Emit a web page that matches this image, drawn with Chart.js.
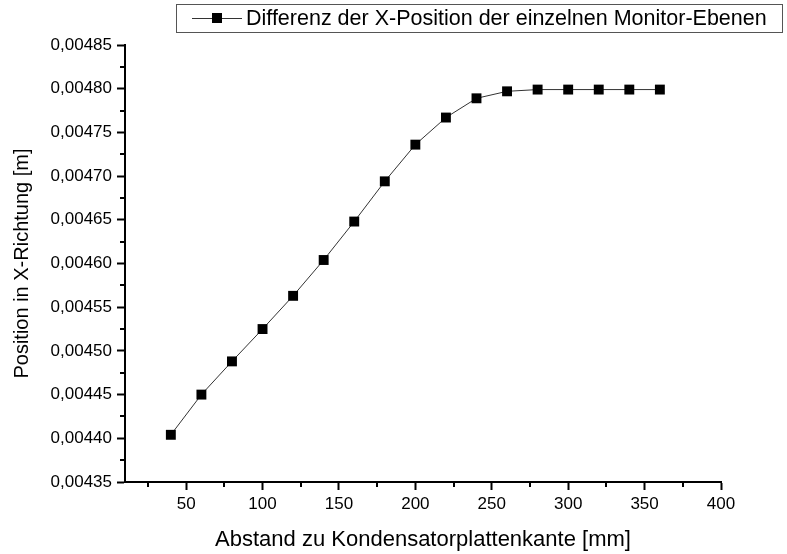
<!DOCTYPE html>
<html lang="de">
<head>
  <meta charset="UTF-8" />
  <title>Differenz der X-Position</title>
  <script src="https://cdn.jsdelivr.net/npm/chart.js@4.4.1/dist/chart.umd.min.js"></script>
  <style>
    html, body { margin: 0; padding: 0; background: #fff; }
    #wrap { width: 787px; height: 554px; }
  </style>
</head>
<body>
  <div id="wrap"><canvas id="chart" width="787" height="554"></canvas></div>

  <script>
    // data
    const abstand = [40, 60, 80, 100, 120, 140, 160, 180, 200, 220, 240, 260, 280, 300, 320, 340, 360];
    const position = [0.004404, 0.004450, 0.004488, 0.004525, 0.004563, 0.004604, 0.004648, 0.004694,
                      0.004736, 0.004767, 0.004789, 0.004797, 0.004799, 0.004799, 0.004799, 0.004799, 0.004799];
    const xTicks = [50, 100, 150, 200, 250, 300, 350, 400];
    const xMinorTicks = [25, 75, 125, 175, 225, 275, 325, 375];
    const yTicks = [0.00435, 0.00440, 0.00445, 0.00450, 0.00455, 0.00460, 0.00465, 0.00470, 0.00475, 0.00480, 0.00485];
    const yMinorTicks = [0.004375, 0.004425, 0.004475, 0.004525, 0.004575, 0.004625, 0.004675, 0.004725, 0.004775, 0.004825];

    const seriesLabel = 'Differenz der X-Position der einzelnen Monitor-Ebenen';
    const fontFamily = '"Liberation Sans", Arial, sans-serif';

    function fmtY(v) {
      return v.toFixed(5).replace('.', ',');
    }

    // short ticks between the labelled ones
    const minorTicks = {
      id: 'minorTicks',
      afterDraw(chart) {
        const ctx = chart.ctx;
        const xs = chart.scales.x, ys = chart.scales.y;
        const area = chart.chartArea;
        ctx.save();
        ctx.strokeStyle = '#000';
        ctx.lineWidth = 2;
        ctx.beginPath();
        xMinorTicks.forEach(v => {
          const px = Math.round(xs.getPixelForValue(v));
          ctx.moveTo(px, area.bottom);
          ctx.lineTo(px, area.bottom + 5);
        });
        yMinorTicks.forEach(v => {
          const py = Math.round(ys.getPixelForValue(v));
          ctx.moveTo(area.left, py);
          ctx.lineTo(area.left - 5, py);
        });
        ctx.stroke();
        ctx.restore();
      }
    };

    // boxed legend in the top right corner
    const boxLegend = {
      id: 'boxLegend',
      afterDraw(chart) {
        const ctx = chart.ctx;
        const ds = chart.data.datasets[0];
        ctx.save();
        ctx.strokeStyle = '#555';
        ctx.lineWidth = 1;
        ctx.strokeRect(176.5, 4.5, 606, 28);
        ctx.strokeStyle = ds.borderColor;
        ctx.beginPath();
        ctx.moveTo(192, 18.5);
        ctx.lineTo(242, 18.5);
        ctx.stroke();
        ctx.fillStyle = '#000';
        ctx.fillRect(212, 13, 10, 10);
        ctx.font = '21.5px ' + fontFamily;
        ctx.textBaseline = 'middle';
        ctx.fillText(ds.label, 246, 19);
        ctx.restore();
      }
    };

    new Chart(document.getElementById('chart'), {
      type: 'line',
      data: {
        datasets: [{
          label: seriesLabel,
          data: abstand.map((x, i) => ({ x: x, y: position[i] })),
          borderColor: '#333',
          borderWidth: 1,
          pointStyle: 'rect',
          pointRadius: 7,
          pointBackgroundColor: '#000',
          pointBorderColor: '#000',
          pointBorderWidth: 0,
          tension: 0
        }]
      },
      options: {
        responsive: false,
        animation: false,
        devicePixelRatio: 1,
        layout: { padding: { top: 45, right: 66, bottom: 0, left: 0 } },
        plugins: {
          legend: { display: false },
          tooltip: { enabled: false }
        },
        scales: {
          x: {
            type: 'linear',
            min: 10,
            max: 400,
            afterBuildTicks: s => { s.ticks = xTicks.map(v => ({ value: v })); },
            afterFit: s => { s.height = 72; },
            border: { color: '#000', width: 2 },
            grid: { drawOnChartArea: false, tickLength: 8, tickColor: '#000', tickWidth: 2 },
            ticks: { color: '#000', padding: 4, maxRotation: 0, font: { family: fontFamily, size: 17 } },
            title: {
              display: true,
              text: 'Abstand zu Kondensatorplattenkante [mm]',
              color: '#000',
              font: { family: fontFamily, size: 22 },
              padding: { top: 0, bottom: 1 }
            }
          },
          y: {
            type: 'linear',
            min: 0.00435,
            max: 0.00485,
            afterBuildTicks: s => { s.ticks = yTicks.map(v => ({ value: v })); },
            afterFit: s => { s.width = 125; },
            border: { color: '#000', width: 2 },
            grid: { drawOnChartArea: false, tickLength: 8, tickColor: '#000', tickWidth: 2 },
            ticks: { color: '#000', padding: 5, font: { family: fontFamily, size: 17 }, callback: v => fmtY(v) },
            title: {
              display: true,
              text: 'Position in X-Richtung [m]',
              color: '#000',
              font: { family: fontFamily, size: 20 },
              padding: { top: 10.5, bottom: 0 }
            }
          }
        }
      },
      plugins: [minorTicks, boxLegend]
    });
  </script>
</body>
</html>
